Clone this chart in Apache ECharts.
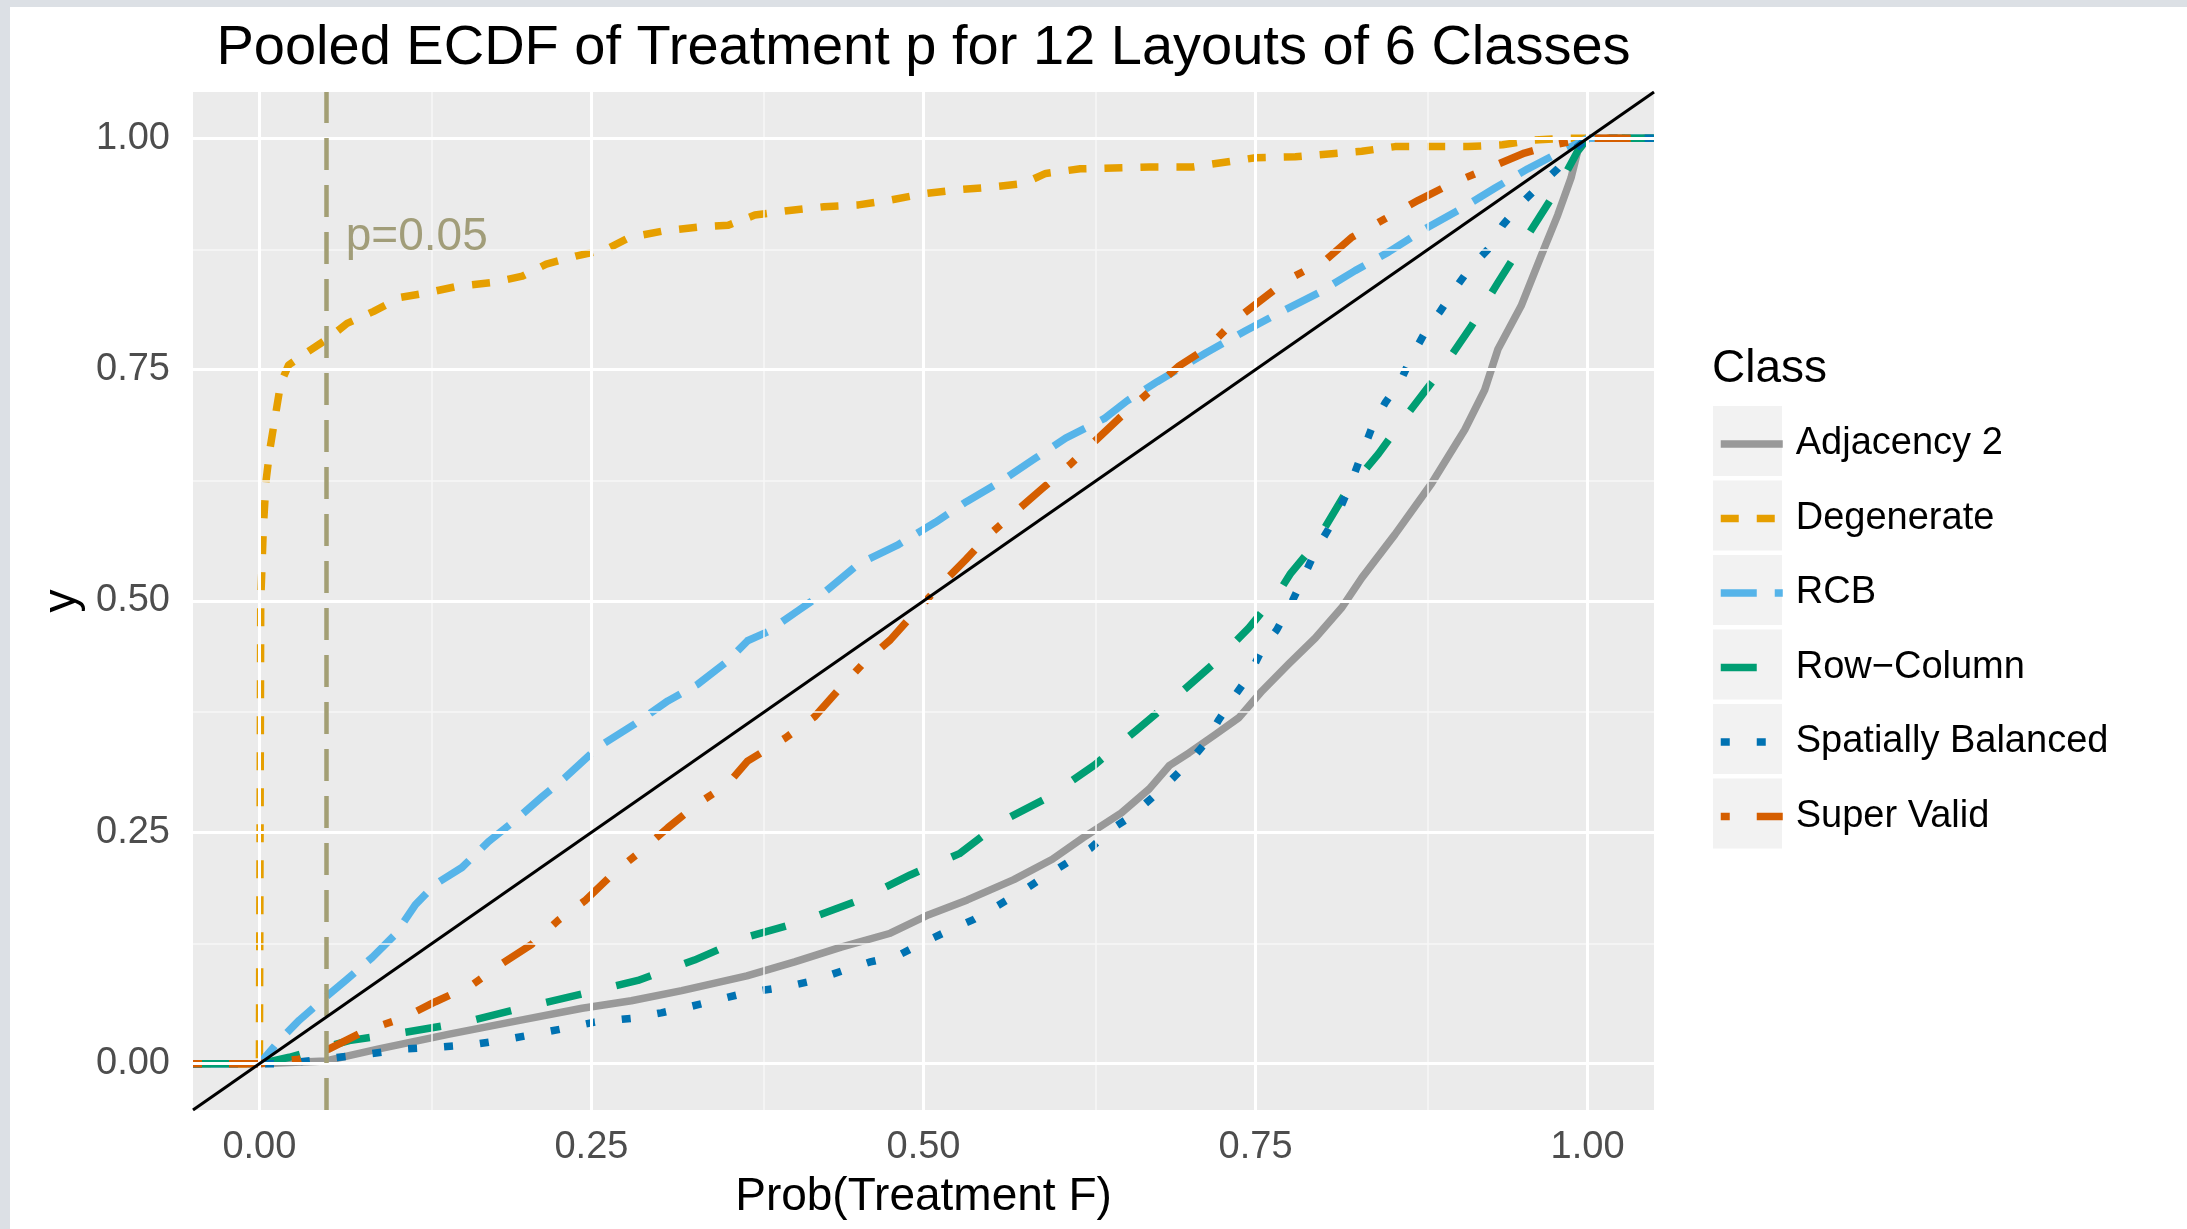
<!DOCTYPE html>
<html>
<head>
<meta charset="utf-8">
<title>Pooled ECDF of Treatment p</title>
<script src="https://cdn.jsdelivr.net/npm/echarts@6/dist/echarts.min.js"></script>
<style>
  html, body { margin: 0; padding: 0; background: #ffffff; }
  #chart { width: 2187px; height: 1229px; }
</style>
</head>
<body>
<div id="chart"></div>
<script>
// ---------------------------------------------------------------
// Data: pooled ECDF of treatment p-values, one curve per layout class.
// Each curve is [p, F(p)]; the first/last pairs pad the step function
// out to the plotted range, as stat_ecdf does.
// ---------------------------------------------------------------
const classNames = ['Adjacency 2', 'Degenerate', 'RCB', 'Row\u2212Column', 'Spatially Balanced', 'Super Valid'];

const adjacency2 = [
  [-0.05, 0], [0, 0], [0.05, 0.003], [0.09, 0.016], [0.143, 0.032], [0.193, 0.046], [0.243, 0.06],
  [0.28, 0.068], [0.318, 0.079], [0.367, 0.095], [0.403, 0.11], [0.438, 0.126], [0.475, 0.141],
  [0.504, 0.161], [0.533, 0.177], [0.568, 0.199], [0.597, 0.221], [0.62, 0.244], [0.649, 0.271],
  [0.67, 0.297], [0.685, 0.322], [0.7, 0.336], [0.72, 0.356], [0.7375, 0.374], [0.755, 0.403],
  [0.775, 0.432], [0.795, 0.46], [0.815, 0.493], [0.83, 0.525], [0.855, 0.572], [0.8825, 0.627],
  [0.9075, 0.685], [0.9225, 0.728], [0.9325, 0.772], [0.95, 0.819], [0.965, 0.873], [0.9775, 0.917],
  [0.9875, 0.957], [0.9925, 0.986], [1, 1], [1.05, 1]
];

const degenerate = [
  [-0.05, 0], [0, 0], [0.001, 0.5], [0.003, 0.58], [0.005, 0.63], [0.008, 0.665], [0.012, 0.7],
  [0.016, 0.735], [0.022, 0.755], [0.034, 0.767], [0.052, 0.784], [0.066, 0.8], [0.086, 0.813],
  [0.106, 0.828], [0.126, 0.833], [0.149, 0.84], [0.175, 0.844], [0.198, 0.851], [0.216, 0.864],
  [0.239, 0.873], [0.261, 0.88], [0.279, 0.893], [0.305, 0.9], [0.33, 0.904], [0.353, 0.906],
  [0.373, 0.917], [0.399, 0.922], [0.425, 0.926], [0.451, 0.928], [0.474, 0.933], [0.5, 0.94],
  [0.523, 0.944], [0.549, 0.947], [0.575, 0.951], [0.592, 0.962], [0.618, 0.967], [0.67, 0.969],
  [0.7025, 0.969], [0.75, 0.979], [0.78, 0.98], [0.83, 0.986], [0.855, 0.991], [0.91, 0.991],
  [0.936, 0.993], [0.96, 0.998], [0.985, 1], [1, 1], [1.05, 1]
];

const rcb = [
  [-0.05, 0], [0, 0], [0.015, 0.025], [0.03, 0.047], [0.05, 0.072], [0.065, 0.09], [0.085, 0.115],
  [0.1025, 0.14], [0.1175, 0.172], [0.1325, 0.194], [0.1525, 0.212], [0.1725, 0.24], [0.1925, 0.263],
  [0.2125, 0.288], [0.23, 0.309], [0.255, 0.342], [0.2825, 0.367], [0.3075, 0.392], [0.33, 0.41],
  [0.3525, 0.435], [0.3675, 0.457], [0.383, 0.467], [0.406, 0.49], [0.426, 0.51], [0.451, 0.54],
  [0.48, 0.56], [0.509, 0.585], [0.532, 0.607], [0.558, 0.629], [0.584, 0.654], [0.607, 0.676],
  [0.636, 0.697], [0.653, 0.716], [0.676, 0.737], [0.7125, 0.768], [0.7425, 0.792], [0.77, 0.813],
  [0.7975, 0.833], [0.825, 0.857], [0.85, 0.877], [0.8775, 0.902], [0.905, 0.924], [0.93, 0.946],
  [0.955, 0.967], [0.975, 0.982], [1, 1], [1.05, 1]
];

const rowColumn = [
  [-0.05, 0], [0, 0], [0.0225, 0.007], [0.0675, 0.025], [0.11, 0.034], [0.155, 0.045], [0.2, 0.061],
  [0.245, 0.076], [0.285, 0.09], [0.3275, 0.112], [0.3675, 0.137], [0.409, 0.154], [0.452, 0.177],
  [0.49, 0.204], [0.527, 0.227], [0.559, 0.262], [0.594, 0.288], [0.629, 0.323], [0.66, 0.36],
  [0.689, 0.395], [0.719, 0.433], [0.745, 0.471], [0.769, 0.513], [0.776, 0.529], [0.795, 0.562],
  [0.8175, 0.616], [0.8425, 0.659], [0.865, 0.703], [0.89, 0.75], [0.9125, 0.797], [0.9325, 0.844],
  [0.955, 0.895], [0.9775, 0.946], [0.9925, 0.986], [1, 1], [1.05, 1]
];

const spatiallyBalanced = [
  [-0.05, 0], [0, 0], [0.0175, 0], [0.06, 0.007], [0.085, 0.011], [0.11, 0.016], [0.135, 0.018],
  [0.1625, 0.021], [0.185, 0.026], [0.2075, 0.032], [0.2325, 0.039], [0.2525, 0.045], [0.28, 0.049],
  [0.3025, 0.055], [0.325, 0.062], [0.3475, 0.07], [0.3675, 0.077], [0.396, 0.083], [0.418, 0.09],
  [0.438, 0.1], [0.46, 0.11], [0.481, 0.117], [0.5, 0.131], [0.519, 0.144], [0.538, 0.156],
  [0.556, 0.171], [0.575, 0.187], [0.591, 0.202], [0.608, 0.217], [0.626, 0.233], [0.64, 0.252],
  [0.656, 0.267], [0.6725, 0.288], [0.686, 0.306], [0.7, 0.326], [0.7125, 0.347], [0.7225, 0.372],
  [0.734, 0.397], [0.745, 0.419], [0.755, 0.448], [0.766, 0.469], [0.776, 0.495], [0.785, 0.522],
  [0.795, 0.554], [0.805, 0.578], [0.814, 0.601], [0.8225, 0.63], [0.83, 0.659], [0.8375, 0.687],
  [0.8475, 0.714], [0.859, 0.737], [0.8675, 0.764], [0.8775, 0.79], [0.889, 0.813], [0.9, 0.837],
  [0.911, 0.859], [0.925, 0.88], [0.936, 0.906], [0.949, 0.928], [0.9625, 0.947], [0.9775, 0.967],
  [0.9925, 0.991], [1, 1], [1.05, 1]
];

const superValid = [
  [-0.05, 0], [0, 0], [0.03, 0.005], [0.0525, 0.016], [0.08, 0.036], [0.1075, 0.049], [0.1325, 0.067],
  [0.16, 0.085], [0.1825, 0.108], [0.205, 0.129], [0.225, 0.155], [0.245, 0.176], [0.2675, 0.207],
  [0.2875, 0.23], [0.3075, 0.255], [0.33, 0.281], [0.3525, 0.302], [0.3675, 0.327], [0.396, 0.352],
  [0.418, 0.375], [0.436, 0.404], [0.455, 0.433], [0.475, 0.458], [0.488, 0.479], [0.51, 0.513],
  [0.532, 0.545], [0.549, 0.571], [0.569, 0.596], [0.589, 0.621], [0.61, 0.647], [0.63, 0.674],
  [0.647, 0.697], [0.67, 0.726], [0.6925, 0.754], [0.715, 0.775], [0.735, 0.804], [0.755, 0.826],
  [0.775, 0.848], [0.8025, 0.868], [0.8225, 0.893], [0.8475, 0.913], [0.8725, 0.933], [0.8975, 0.951],
  [0.9225, 0.966], [0.9525, 0.984], [0.975, 0.993], [1, 1], [1.05, 1]
];

// Reference diagonal F(p) = p, drawn across the full panel
const identityLine = [[-0.05, -0.05], [1.05, 1.05]];

// Significance threshold and its annotation
const pThreshold = 0.05;
const thresholdLabel = 'p=0.05';
const thresholdLabelAt = [0.065, 0.9];

// Axis breaks and their labels
const tickValues = [0, 0.25, 0.5, 0.75, 1];
const tickLabels = ['0.00', '0.25', '0.50', '0.75', '1.00'];
const minorValues = [0.125, 0.375, 0.625, 0.875];
const axisMin = -0.05, axisMax = 1.05;

// ---------------------------------------------------------------
// Styling
// ---------------------------------------------------------------
const classData = [adjacency2, degenerate, rcb, rowColumn, spatiallyBalanced, superValid];
const classColors = ['#999999', '#E69F00', '#56B4E9', '#009E73', '#0072B2', '#D55E00'];
const classDashes = ['solid', [18, 18], [36, 18], [36, 36], [9, 27], [9, 27, 36, 27]];
const CURVE_WIDTH = 7.5;

const FONT = '"Liberation Sans", Arial, Helvetica, sans-serif';
const OLIVE_LINE = '#A39F74';
const OLIVE_TEXT = '#8E8A5C';

const G = { left: 193, top: 92, width: 1461, height: 1018 };
// legend rows: keys centred from y=441, rows 74.5px apart;
// the line icon's bounding box is 0.8 * itemHeight tall
const LEG = { left: 1717, firstCenter: 441, itemShift: 3, iconW: 62, itemH: 70, pitch: 74.5 };
const iconBox = LEG.itemH * 0.8;

const chart = echarts.init(document.getElementById('chart'), null, { renderer: 'canvas' });

function tickFmt(v) {
  const i = tickValues.findIndex(t => Math.abs(t - v) < 1e-9);
  return i >= 0 ? tickLabels[i] : '';
}

function valueAxis(extra) {
  return Object.assign({
    type: 'value',
    min: axisMin,
    max: axisMax,
    axisLine: { show: false },
    axisTick: {
      show: true, customValues: tickValues, length: 11,
      lineStyle: { color: '#333333', width: 2.6 }
    },
    splitLine: { show: false },
    minorSplitLine: { show: false },
    nameTextStyle: { fontSize: 46, color: '#000000', fontFamily: FONT }
  }, extra);
}

// white panel grid drawn as mark lines beneath the curves
const gridLines = [];
minorValues.forEach(v => {
  gridLines.push({ xAxis: v, lineStyle: { width: 1.5, color: '#F7F7F7' } });
  gridLines.push({ yAxis: v, lineStyle: { width: 1.5, color: '#F7F7F7' } });
});
tickValues.forEach(v => {
  gridLines.push({ xAxis: v, lineStyle: { width: 3, color: '#FFFFFF' } });
  gridLines.push({ yAxis: v, lineStyle: { width: 3, color: '#FFFFFF' } });
});

const series = [
  {
    name: 'panel-grid', type: 'line', data: [], z: 1, silent: true, animation: false,
    markLine: {
      silent: true, animation: false, symbol: ['none', 'none'],
      label: { show: false }, emphasis: { disabled: true },
      lineStyle: { type: 'solid', color: '#FFFFFF', width: 3 },
      data: gridLines
    }
  }
];

classNames.forEach((name, i) => {
  series.push({
    name: name, type: 'line', data: classData[i],
    symbol: 'none', showSymbol: false, z: 3, animation: false, silent: true,
    clip: true,
    lineStyle: { color: classColors[i], width: CURVE_WIDTH, type: classDashes[i], cap: 'butt', join: 'round' },
    itemStyle: { color: classColors[i] },
    emphasis: { disabled: true }
  });
});

series.push({
  name: 'threshold', type: 'line', data: [], z: 4, silent: true, animation: false,
  markLine: {
    silent: true, animation: false, symbol: ['none', 'none'],
    label: { show: false }, emphasis: { disabled: true },
    lineStyle: { type: [32, 15], color: OLIVE_LINE, width: 4.5 },
    data: [{ xAxis: pThreshold }]
  }
});

series.push({
  name: 'identity', type: 'line', data: identityLine, z: 5,
  symbol: 'none', showSymbol: false, silent: true, animation: false,
  lineStyle: { color: '#000000', width: 3, type: 'solid' },
  emphasis: { disabled: true }
});

series.push({
  name: 'threshold-label', type: 'scatter', data: [thresholdLabelAt], z: 6,
  symbolSize: 0, silent: true, animation: false,
  label: {
    show: true, position: 'right', distance: 0, offset: [0, 6], formatter: thresholdLabel,
    fontSize: 46, color: OLIVE_TEXT, fontFamily: FONT
  }
});

// page edge bands, legend title and legend key backgrounds
const graphic = [
  { type: 'rect', silent: true, z: 0, shape: { x: 0, y: 0, width: 2187, height: 7 }, style: { fill: '#DCE0E5' } },
  { type: 'rect', silent: true, z: 0, shape: { x: 0, y: 0, width: 10, height: 1229 }, style: { fill: '#DCE0E5' } },
  {
    type: 'text', silent: true, z: 1, x: 1712, y: 369,
    style: { text: 'Class', font: '46px ' + FONT, fill: '#000000', textVerticalAlign: 'middle', verticalAlign: 'middle' }
  }
];
classNames.forEach((n, i) => {
  const cy = LEG.firstCenter + i * LEG.pitch;
  graphic.push({
    type: 'rect', silent: true, z: 0,
    shape: { x: 1713, y: cy - 35, width: 69, height: 70 },
    style: { fill: '#F2F2F2' }
  });
});

const option = {
  backgroundColor: '#FFFFFF',
  animation: false,
  title: {
    text: 'Pooled ECDF of Treatment p for 12 Layouts of 6 Classes',
    left: G.left + G.width / 2, top: 21, textAlign: 'center', padding: 0,
    textStyle: { fontSize: 56, fontWeight: 'normal', color: '#000000', fontFamily: FONT, lineHeight: 56 }
  },
  grid: Object.assign({ show: true, backgroundColor: '#EBEBEB', borderWidth: 0, containLabel: false, outerBoundsMode: 'none' }, G),
  xAxis: valueAxis({
    name: 'Prob(Treatment F)', nameLocation: 'middle', nameGap: 64,
    axisLabel: {
      show: true, customValues: tickValues, formatter: tickFmt, margin: 19,
      fontSize: 38, color: '#4D4D4D', fontFamily: FONT
    }
  }),
  yAxis: valueAxis({
    name: 'y', nameLocation: 'middle', nameGap: 107, nameRotate: 90,
    axisLabel: {
      show: true, customValues: tickValues, formatter: tickFmt, margin: 23,
      fontSize: 38, color: '#4D4D4D', fontFamily: FONT
    }
  }),
  legend: {
    data: classNames, orient: 'vertical', left: LEG.left,
    top: LEG.firstCenter + LEG.itemShift - iconBox / 2, padding: 0,
    itemWidth: LEG.iconW, itemHeight: LEG.itemH, itemGap: LEG.pitch - iconBox,
    selectedMode: false,
    textStyle: { fontSize: 38, color: '#000000', fontFamily: FONT, padding: [0, 0, 0, 8] },
    lineStyle: { width: CURVE_WIDTH },
    itemStyle: { opacity: 0 }
  },
  tooltip: { show: false },
  graphic: graphic,
  series: series
};

chart.setOption(option);
</script>
</body>
</html>
